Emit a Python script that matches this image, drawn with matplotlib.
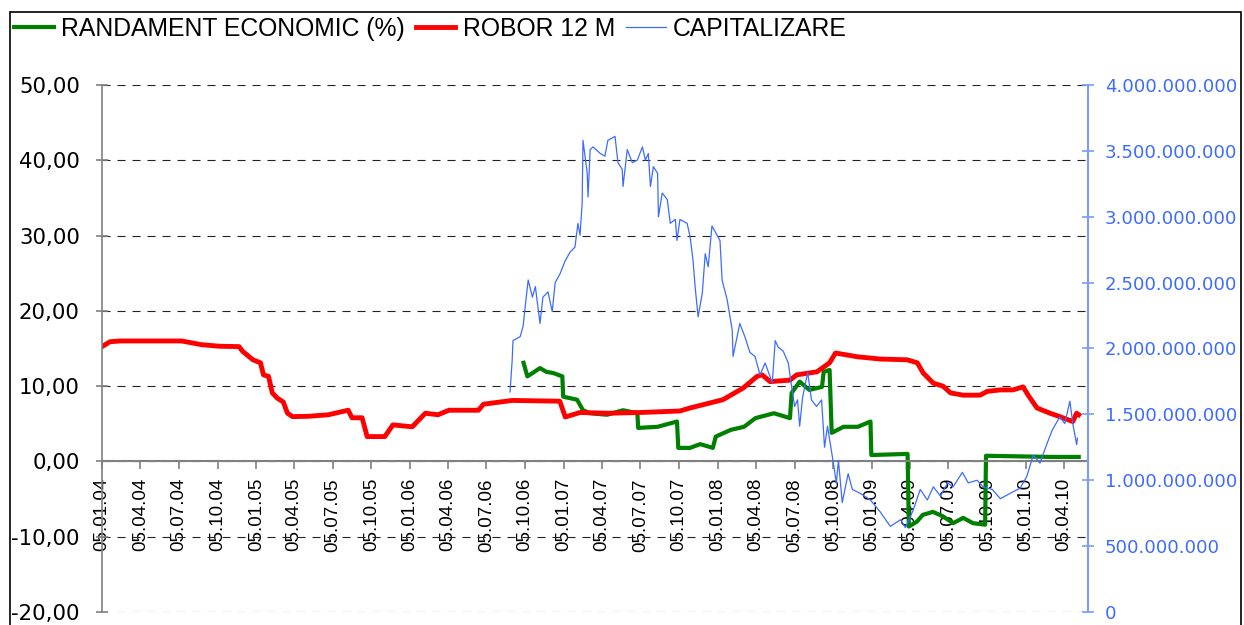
import matplotlib
matplotlib.use('Agg')
import matplotlib.pyplot as plt
import matplotlib.dates as mdates
import matplotlib.ticker as mticker
from matplotlib import font_manager
from matplotlib.patches import Rectangle
import pandas as pd

plt.rcParams['font.family'] = ['Liberation Sans', 'DejaVu Sans']
plt.rcParams['lines.scale_dashes'] = False

installed = {f.name for f in font_manager.fontManager.ttflist}
if 'Liberation Sans Narrow' in installed:
    xfont, xsize = 'Liberation Sans Narrow', 15.5
else:
    xfont, xsize = 'Liberation Sans', 13.5

# ROBOR 12 M (%)
robor_dates = ['2004-01-05', '2004-01-24', '2004-02-17', '2004-05-01', '2004-07-12', '2004-08-29',
               '2004-10-10', '2004-11-25', '2004-12-04', '2004-12-28', '2005-01-15', '2005-01-22',
               '2005-02-03', '2005-02-12', '2005-02-24', '2005-03-10', '2005-03-20', '2005-04-01',
               '2005-05-10', '2005-06-25', '2005-08-11', '2005-08-20', '2005-09-13', '2005-09-25',
               '2005-11-06', '2005-11-25', '2006-01-10', '2006-02-10', '2006-03-12', '2006-04-07',
               '2006-06-16', '2006-06-28', '2006-09-04', '2006-12-26', '2007-01-08', '2007-02-12',
               '2007-04-20', '2007-07-05', '2007-10-07', '2007-10-31', '2008-01-17', '2008-03-05',
               '2008-04-07', '2008-04-19', '2008-05-08', '2008-06-24', '2008-07-10', '2008-08-27',
               '2008-09-26', '2008-10-10', '2008-12-01', '2009-01-24', '2009-03-29', '2009-04-22',
               '2009-05-06', '2009-05-30', '2009-06-22', '2009-07-10', '2009-08-09', '2009-09-18',
               '2009-10-05', '2009-11-05', '2009-12-05', '2009-12-29', '2010-01-10', '2010-01-31',
               '2010-03-03', '2010-03-26', '2010-04-26', '2010-05-05', '2010-05-10']
robor_vals = [15.25, 15.9, 16.0, 16.0, 16.0, 15.5,
              15.3, 15.25, 14.6, 13.5, 13.1, 11.5,
              11.3, 9.1, 8.4, 7.9, 6.4, 5.95,
              6.0, 6.2, 6.8, 5.8, 5.8, 3.3,
              3.3, 4.85, 4.6, 6.4, 6.2, 6.8,
              6.8, 7.6, 8.1, 8.0, 5.9, 6.5,
              6.4, 6.5, 6.7, 7.1, 8.2, 9.75,
              11.3, 11.5, 10.6, 10.8, 11.5, 11.9,
              13.1, 14.4, 13.9, 13.6, 13.5, 13.1,
              11.75, 10.4, 10.0, 9.1, 8.8, 8.8,
              9.3, 9.5, 9.5, 9.9, 8.8, 7.1,
              6.4, 5.95, 5.3, 6.4, 6.2]

# RANDAMENT ECONOMIC (%)
rand_dates = ['2006-10-01', '2006-10-10', '2006-10-24', '2006-11-09', '2006-11-24', '2006-12-10',
              '2007-01-01', '2007-01-03', '2007-02-05', '2007-02-19', '2007-03-08', '2007-04-17',
              '2007-05-25', '2007-06-28', '2007-06-30', '2007-08-15', '2007-09-30', '2007-10-03',
              '2007-10-31', '2007-11-24', '2007-12-24', '2007-12-31', '2008-02-05', '2008-03-07',
              '2008-04-03', '2008-05-17', '2008-06-24', '2008-06-28', '2008-07-17', '2008-08-09',
              '2008-09-08', '2008-09-12', '2008-09-26', '2008-10-01', '2008-10-29', '2008-12-02',
              '2009-01-01', '2009-01-03', '2009-03-30', '2009-04-02', '2009-04-21', '2009-05-05',
              '2009-05-29', '2009-06-22', '2009-07-16', '2009-08-09', '2009-09-01', '2009-09-30',
              '2009-10-02', '2010-03-03', '2010-05-10']
rand_vals = [13.1, 11.3, 11.8, 12.4, 11.9, 11.75,
             11.3, 8.6, 8.2, 6.8, 6.4, 6.2,
             6.8, 6.4, 4.45, 4.6, 5.3, 1.8,
             1.8, 2.3, 1.8, 3.3, 4.2, 4.6,
             5.75, 6.4, 5.75, 9.1, 10.6, 9.5,
             9.9, 11.9, 12.15, 3.8, 4.6, 4.6,
             5.3, 0.85, 1.0, -8.65, -8.0, -7.1,
             -6.7, -7.3, -8.2, -7.5, -8.2, -8.4,
             0.75, 0.6, 0.6]

# CAPITALIZARE (mil. lei)
cap_dates = ['2006-08-30', '2006-09-04', '2006-09-06', '2006-09-23', '2006-09-30', '2006-10-05',
             '2006-10-12', '2006-10-22', '2006-10-29', '2006-11-09', '2006-11-16', '2006-11-28',
             '2006-12-08', '2006-12-15', '2006-12-27', '2007-01-07', '2007-01-19', '2007-01-31',
             '2007-02-07', '2007-02-12', '2007-02-17', '2007-02-19', '2007-03-01', '2007-03-03',
             '2007-03-08', '2007-03-15', '2007-04-01', '2007-04-12', '2007-04-19', '2007-05-06',
             '2007-05-13', '2007-05-23', '2007-05-25', '2007-06-04', '2007-06-16', '2007-06-28',
             '2007-07-10', '2007-07-17', '2007-07-24', '2007-07-29', '2007-08-05', '2007-08-15',
             '2007-08-17', '2007-08-26', '2007-09-07', '2007-09-14', '2007-09-26', '2007-09-30',
             '2007-10-07', '2007-10-24', '2007-10-31', '2007-11-07', '2007-11-12', '2007-11-19',
             '2007-11-29', '2007-12-06', '2007-12-13', '2007-12-22', '2008-01-10', '2008-01-15',
             '2008-01-27', '2008-02-08', '2008-02-10', '2008-02-26', '2008-03-09', '2008-03-21',
             '2008-04-02', '2008-04-14', '2008-04-26', '2008-05-13', '2008-05-20', '2008-05-27',
             '2008-06-08', '2008-06-20', '2008-06-28', '2008-07-05', '2008-07-12', '2008-07-17',
             '2008-07-24', '2008-08-05', '2008-08-14', '2008-08-26', '2008-09-07', '2008-09-14',
             '2008-09-21', '2008-10-05', '2008-10-12', '2008-10-17', '2008-10-26', '2008-11-09',
             '2008-11-19', '2008-12-08', '2009-01-01', '2009-01-24', '2009-02-17', '2009-03-13',
             '2009-03-25', '2009-04-12', '2009-04-29', '2009-05-16', '2009-05-30', '2009-06-16',
             '2009-07-03', '2009-07-16', '2009-08-07', '2009-08-21', '2009-09-11', '2009-09-25',
             '2009-10-17', '2009-11-05', '2009-11-28', '2009-12-22', '2010-01-07', '2010-01-22',
             '2010-02-07', '2010-02-24', '2010-03-08', '2010-03-26', '2010-04-07', '2010-04-19',
             '2010-04-26', '2010-05-05', '2010-05-07']
cap_vals = [1670, 1910, 2060, 2090, 2170, 2320,
            2520, 2390, 2470, 2190, 2390, 2430,
            2280, 2500, 2570, 2660, 2730, 2770,
            2950, 2860, 3100, 3580, 3330, 3150,
            3510, 3530, 3480, 3460, 3580, 3610,
            3410, 3360, 3230, 3510, 3410, 3430,
            3530, 3430, 3480, 3230, 3380, 3330,
            3000, 3180, 3130, 2950, 2980, 2820,
            2980, 2950, 2850, 2670, 2470, 2240,
            2420, 2720, 2620, 2930, 2820, 2520,
            2370, 2140, 1940, 2190, 2090, 1970,
            1940, 1800, 1890, 1740, 2060, 2010,
            1980, 1890, 1710, 1560, 1610, 1410,
            1630, 1820, 1610, 1560, 1610, 1250,
            1410, 1130, 980, 1150, 830, 1050,
            930, 900, 850, 760, 650, 700,
            640, 770, 930, 850, 950, 880,
            980, 950, 1060, 980, 1000, 950,
            930, 860, 900, 940, 1030, 1190,
            1130, 1280, 1380, 1480, 1430, 1600,
            1430, 1270, 1320]

robor_x = pd.to_datetime(robor_dates)
rand_x = pd.to_datetime(rand_dates)
cap_x = pd.to_datetime(cap_dates)
cap_y = [v * 1e6 for v in cap_vals]

fig = plt.figure(figsize=(12.44, 6.25), dpi=100)
ax = fig.add_axes([102/1244, 13/625, 986/1244, 527/625])
ax2 = ax.twinx()

ax.plot(rand_x, rand_vals, color='#008000', lw=3, label='RANDAMENT ECONOMIC (%)')
ax.plot(robor_x, robor_vals, color='#ff0000', lw=3.5, label='ROBOR 12 M')
ax2.plot(cap_x, cap_y, color='#3d6bff', lw=0.9, label='CAPITALIZARE')

ax.set_xlim(pd.Timestamp('2004-01-05'), pd.Timestamp('2010-06-01'))
ax.set_ylim(-20, 50)
ax.set_yticks(range(-20, 51, 10))
ax.yaxis.set_major_formatter(mticker.FuncFormatter(lambda v, p: f'{v:.2f}'.replace('.', ',')))
ax.yaxis.grid(True, linestyle=(0, (5.8, 5)), color='#222222', lw=0.8)
ax.set_axisbelow(True)

ax.xaxis.set_major_locator(mdates.MonthLocator(bymonth=[1, 4, 7, 10], bymonthday=5))
ax.xaxis.set_major_formatter(mdates.DateFormatter('%d.%m.%y'))

ax.spines['bottom'].set_position(('data', 0))
ax.spines['bottom'].set_color('#808080')
ax.spines['bottom'].set_linewidth(1.5)
ax.spines['left'].set_color('#808080')
ax.spines['left'].set_linewidth(1.2)
ax.spines['top'].set_visible(False)
ax.spines['right'].set_visible(False)

ax.tick_params(axis='y', direction='inout', length=8, width=1.2, color='#808080', pad=12)
ax.tick_params(axis='x', direction='out', length=6, width=1.2, color='#808080', pad=6)
for t in ax.get_yticklabels():
    t.set_family(['DejaVu Sans'])
    t.set_fontsize(15.3)
for t in ax.get_xticklabels():
    t.set_family([xfont, 'DejaVu Sans'])
    t.set_fontsize(xsize)
    t.set_rotation(90)

ax2.set_ylim(0, 4e9)
ax2.set_yticks([i * 5e8 for i in range(9)])
ax2.yaxis.set_major_formatter(mticker.FuncFormatter(lambda v, p: f'{v:,.0f}'.replace(',', '.')))
for s in ['top', 'bottom', 'left']:
    ax2.spines[s].set_visible(False)
ax2.spines['right'].set_color('#7a9bff')
ax2.spines['right'].set_linewidth(1.5)
ax2.tick_params(axis='y', direction='inout', length=8, width=1.2, color='#7a9bff', pad=8,
                labelcolor='#3d6bff')
for t in ax2.get_yticklabels():
    t.set_family(['DejaVu Sans'])
    t.set_fontsize(13.1)

h1, l1 = ax.get_legend_handles_labels()
h2, l2 = ax2.get_legend_handles_labels()
fig.legend(h1 + h2, l1 + l2, loc='center left', bbox_to_anchor=(14/1244, 1 - 29/625),
           ncol=3, frameon=False, fontsize=17.8, handlelength=1.6, handletextpad=0.3,
           columnspacing=0.45, borderpad=0, borderaxespad=0)

fig.patches.append(Rectangle((10/1244, -0.02), 1231/1244, 1.02 - 12/625, transform=fig.transFigure,
                             fill=False, ec='black', lw=1.2))

fig.savefig('out.png', dpi=100)
